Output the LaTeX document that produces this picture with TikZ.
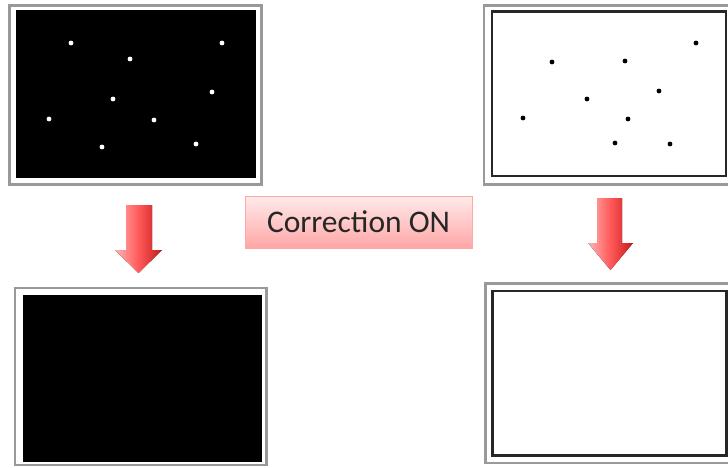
\documentclass[tikz,border=0pt]{standalone}
\usepackage{fontspec}
\setmainfont{Carlito}
\begin{document}
\begin{tikzpicture}[x=1pt,y=-1pt,
  outerframe/.style={draw=black!40, line width=2.6pt},
  wdot/.style={fill=white, draw=none},
  bdot/.style={fill=black, draw=none},
  blockarrow/.style={left color=red!30!white, right color=red!75!black!90, middle color=red!65, draw=none},
  labelbox/.style={draw=red!35, line width=0.8pt, top color=red!8, bottom color=red!35, text=black!85, inner xsep=0pt, inner ysep=0pt, minimum width=227pt, minimum height=52pt, font=\fontsize{31.5}{36}\selectfont}
]
\useasboundingbox (0,0) rectangle (728,467);
\fill[white] (0,0) rectangle (728,467);

% top-left panel
\draw[outerframe] (9.5,5.5) rectangle (261.5,184.5);
\fill[black] (15.5,10) rectangle (255.5,177.5);
\foreach \p in {(71,43),(222,43),(130,59),(113,99),(212,92),(49,119),(154,120),(102,147),(196,144)}
  \fill[wdot] \p circle (2.4);

% top-right panel
\draw[outerframe] (484,5.5) rectangle (730,184.5);
\draw[black!85, line width=2.2pt] (492,11.5) rectangle (726,176);
\foreach \p in {(552,62),(625,61),(696,43),(659,91),(587,99),(523,118),(628,119),(615,143),(670,144)}
  \fill[bdot] \p circle (2.4);

% bottom-left panel
\draw[outerframe] (15,288) rectangle (266.5,465);
\fill[black] (22.5,294.5) rectangle (261.5,461.5);

% bottom-right panel
\draw[outerframe] (485.5,283.5) rectangle (730,463);
\draw[black!85, line width=2.2pt] (492.5,291) rectangle (726.5,455.5);

% arrows
\fill[blockarrow] (126,205) -- (152,205) -- (152,250) -- (162,250) -- (138.5,273) -- (115,250) -- (126,250) -- cycle;
\fill[blockarrow] (597,198) -- (622,198) -- (622,243) -- (633,243) -- (610.5,270) -- (588,243) -- (597,243) -- cycle;

% label
\node[labelbox] (corr) at (358.5,222) {Correction ON};
\end{tikzpicture}
\end{document}
